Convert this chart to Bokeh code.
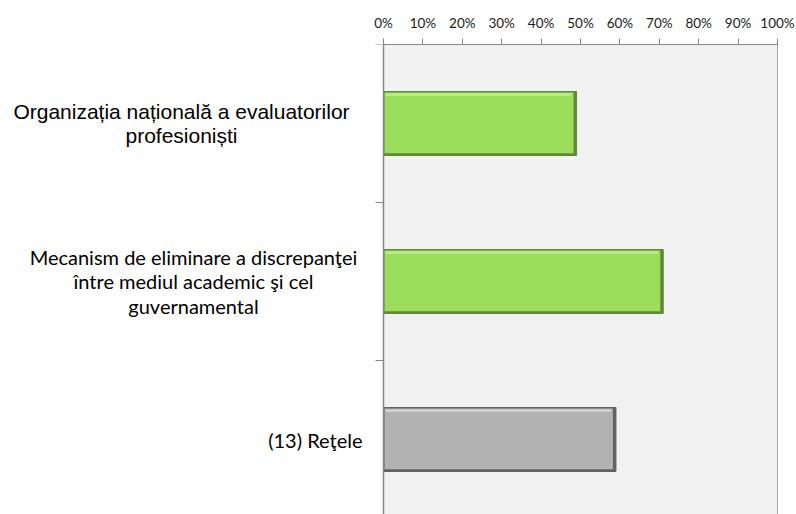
from bokeh.plotting import figure
from bokeh.models import Range1d, FixedTicker, NumeralTickFormatter, BoxAnnotation, Span, ColumnDataSource
from bokeh.core.properties import value
from bokeh.embed import file_html
from bokeh.resources import INLINE

categories = [
    "Organizația națională a evaluatorilor\nprofesioniști",
    "Mecanism de eliminare a discrepanţei\nîntre mediul academic şi cel\nguvernamental",
    "(13) Reţele",
]
values = [0.49, 0.71, 0.59]
fills = ["#9bdd5b", "#9bdd5b", "#b2b2b2"]
edges = ["#5f8a37", "#5f8a37", "#626262"]
highlights = ["#b8ec88", "#b8ec88", "#cfcfcf"]
x_ticks = [i / 10 for i in range(11)]

# layout constants (pixels)
W, H = 796, 514
plot_left, plot_right = 383, 777
frame_top = 44
band_px = 158
px = 1.0 / (plot_right - plot_left)          # one pixel in x data units

label_fonts = ["Liberation Sans", "Lato", "Lato"]
label_sizes = ["21px", "20px", "20px"]
label_lh = [1.07, 1.04, 1.04]
label_cx = [181, 193, 362]                    # pixel anchor of each label
label_align = ["center", "center", "right"]

n = len(categories)
ypos = [i + 0.5 for i in range(n)]
y_span = (H - frame_top) / band_px

p = figure(width=W, height=H, output_backend="svg", toolbar_location=None,
           x_range=Range1d(-plot_left * px, (W - plot_left) * px),
           y_range=Range1d(y_span, 0),
           x_axis_location="above", min_border_left=0, min_border_right=0,
           min_border_top=frame_top, min_border_bottom=0)
p.background_fill_color = "#ffffff"
p.border_fill_color = "#ffffff"
p.outline_line_color = None
p.yaxis.visible = False

p.add_layout(BoxAnnotation(left=0, right=1, fill_color="#f2f2f2", fill_alpha=1,
                           line_color=None, level="underlay"))

xa = p.xaxis[0]
xa.bounds = (0, 1)
xa.ticker = FixedTicker(ticks=x_ticks)
xa.formatter = NumeralTickFormatter(format="0%")
xa.major_tick_out = 6
xa.major_tick_in = 0
xa.minor_tick_line_color = None
xa.axis_line_color = "#868686"
xa.major_tick_line_color = "#868686"
xa.major_label_text_font = "Lato"
xa.major_label_text_font_size = "13.5px"
xa.major_label_text_color = "#1a1a1a"
xa.major_label_standoff = 8

p.xgrid.ticker = FixedTicker(ticks=x_ticks[1:])
p.xgrid.grid_line_color = "#d9d9d9"
p.ygrid.grid_line_color = None

# right border of plot area
p.add_layout(Span(location=1, dimension="height", line_color="#a6a6a6", line_width=1))
# category axis line at 0
p.add_layout(Span(location=0, dimension="height", line_color="#868686", line_width=1.5))
# category boundary ticks
bounds_y = list(range(0, n + 1))
p.segment(x0=[-8 * px] * len(bounds_y), x1=[0] * len(bounds_y), y0=bounds_y, y1=bounds_y,
          line_color="#868686", line_width=1)

h = 0.405
src = ColumnDataSource(dict(y=ypos, v=values, fill=fills, edge=edges, hi=highlights,
                            y_face=[y - 0.004 for y in ypos],
                            v_face=[v - 3 * px for v in values],
                            y_hi=[y - h / 2 + 0.02 for y in ypos],
                            v_hi=[v - 5 * px for v in values]))
p.hbar(y="y", right="v", left=0, height=h, fill_color="edge", line_color="edge", line_width=1, source=src)
p.hbar(y="y_face", right="v_face", left=px, height=h - 0.022, fill_color="fill", line_color=None, source=src)
p.hbar(y="y_hi", right="v_hi", left=2 * px, height=0.018, fill_color="hi", line_color=None, source=src)

for c, y, f, s, lh, cx, a in zip(categories, ypos, label_fonts, label_sizes, label_lh, label_cx, label_align):
    p.text(x=[(cx - plot_left) * px], y=[y], text=[c], text_font=value(f), text_font_size=s,
           text_align=a, text_baseline="middle", text_color="#000000", text_line_height=lh)

open("out.html", "w").write(file_html(p, INLINE))
